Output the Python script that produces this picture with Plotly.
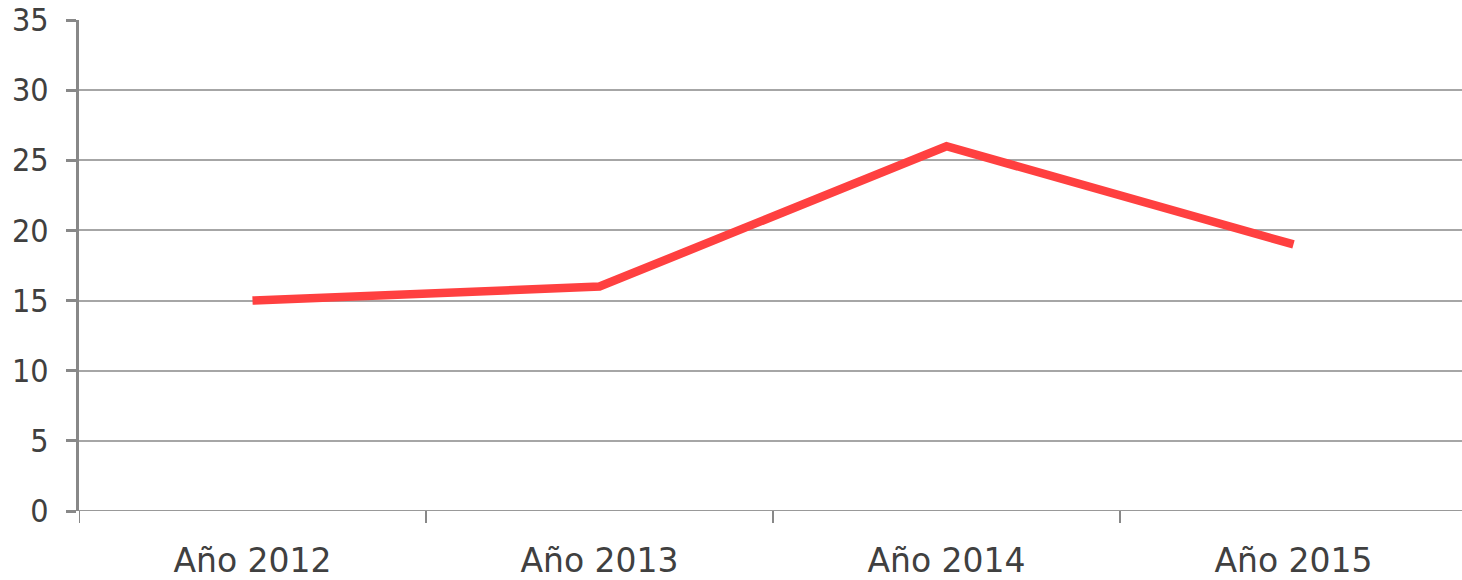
import plotly.graph_objects as go

categories = ["Año 2012", "Año 2013", "Año 2014", "Año 2015"]
values = [15, 16, 26, 19]
y_ticks = [0, 5, 10, 15, 20, 25, 30, 35]

W, H = 1462, 580
ml, mr, mt, mb = 79, 0, 20, 69
cat_px = 347
span = (W - ml - mr) / cat_px
plot_h = H - mt - mb

fig = go.Figure()
fig.add_trace(go.Scatter(
    x=list(range(len(categories))), y=values, mode="lines",
    line=dict(color="#ff4040", width=8.5), hoverinfo="skip", cliponaxis=False))

xfont = dict(family="DejaVu Sans", size=33, color="#404040")
yfont = dict(family="DejaVu Sans Condensed, DejaVu Sans", size=32, color="#404040")
fig.update_layout(
    width=W, height=H, margin=dict(l=ml, r=mr, t=mt, b=mb, autoexpand=False),
    paper_bgcolor="white", plot_bgcolor="white", showlegend=False,
    font=xfont,
    xaxis=dict(
        range=[-0.5, -0.5 + span], tickmode="array", automargin=False,
        tickvals=list(range(len(categories))), ticktext=categories,
        showgrid=False, zeroline=False, showline=False,
        ticks="", tickfont=xfont, ticklabelstandoff=27,
        ticklabeloverflow="allow"),
    yaxis=dict(
        range=[0, 35], tickvals=y_ticks, showgrid=True, automargin=False,
        gridcolor="#a6a6a6", gridwidth=1.5, zeroline=False,
        showline=True, linecolor="#888888", linewidth=3,
        ticks="outside", ticklen=10, tickwidth=3, tickcolor="#888888",
        tickfont=yfont, ticklabelstandoff=11, ticklabeloverflow="allow"),
)
for b in range(len(categories) + 1):
    fig.add_shape(type="line", xref="x", yref="paper",
                  x0=b - 0.5, x1=b - 0.5, y0=0, y1=-12 / plot_h,
                  line=dict(color="#888888", width=2))
fig.add_shape(type="line", xref="paper", yref="y", x0=0, x1=1, y0=0, y1=0,
              line=dict(color="#999999", width=2), layer="below")
fig.write_html(
    "out.html",
    config={"displayModeBar": False},
    post_script="document.body.style.margin='0';document.body.style.overflow='hidden';",
)
